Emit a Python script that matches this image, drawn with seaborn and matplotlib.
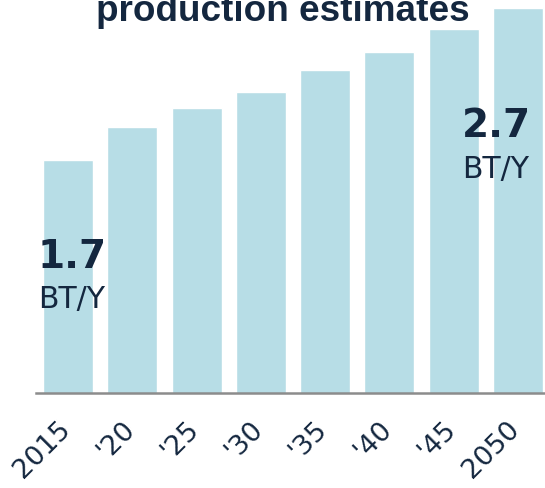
import matplotlib
matplotlib.use("Agg")
import matplotlib.pyplot as plt
import matplotlib.transforms as mtransforms
import seaborn as sns
import pandas as pd

years = ["2015", "'20", "'25", "'30", "'35", "'40", "'45", "2050"]
values = [1.70, 1.92, 2.04, 2.15, 2.29, 2.41, 2.56, 2.70]
title = "production estimates"
start_label = ("1.7", "BT/Y")
end_label = ("2.7", "BT/Y")

navy = "#14273f"
bar_color = "#b7dde6"

sns.set_theme(style="white")
plt.rcParams['font.family'] = ['DejaVu Sans']

fig = plt.figure(figsize=(5.45, 4.88), dpi=100)
ax = fig.add_axes([36/545, (488-393)/488, 514/545, 393/488])

df = pd.DataFrame({"year": years, "value": values})
sns.barplot(data=df, x="year", y="value", color=bar_color, saturation=1,
            width=0.78, ax=ax)

ax.set_xlim(-0.5, 7.5)
ax.set_ylim(0.167, 2.753)
ax.set_xlabel("")
ax.set_ylabel("")
ax.set_yticks([])
for s in ["top", "right", "left"]:
    ax.spines[s].set_visible(False)
ax.spines["bottom"].set_color("#8c8c8c")
ax.spines["bottom"].set_linewidth(1.8)
ax.tick_params(axis="x", length=0, pad=17)
offset = mtransforms.ScaledTranslation(-11/100, 0, fig.dpi_scale_trans)
for lab in ax.get_xticklabels():
    lab.set_rotation(45)
    lab.set_ha("right")
    lab.set_va("top")
    lab.set_rotation_mode("anchor")
    lab.set_fontsize(19.5)
    lab.set_color(navy)
    lab.set_transform(lab.get_transform() + offset)

fig.text(283/545, 1 - 21/488, title, ha="center", va="baseline",
         fontsize=26.6, fontweight="bold", color=navy,
         family=["Liberation Sans", "DejaVu Sans"])

fig.text(38/545, 1 - 268/488, start_label[0], ha="left", va="baseline",
         fontsize=28, fontweight="bold", color=navy)
fig.text(38/545, 1 - 308/488, start_label[1], ha="left", va="baseline",
         fontsize=21.5, color=navy)
fig.text(462/545, 1 - 137/488, end_label[0], ha="left", va="baseline",
         fontsize=28, fontweight="bold", color=navy)
fig.text(462/545, 1 - 178/488, end_label[1], ha="left", va="baseline",
         fontsize=21.5, color=navy)

fig.savefig("out.png", dpi=100)
